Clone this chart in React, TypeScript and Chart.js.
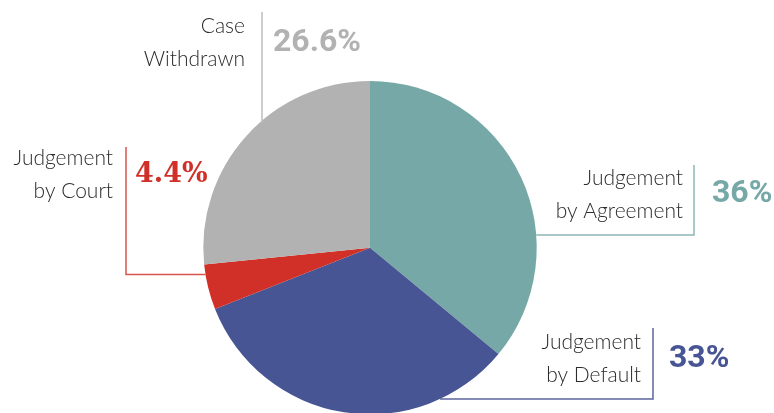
import React, { useEffect, useRef } from "react";
import { Chart, registerables } from "chart.js";

Chart.register(...registerables);

const categories = [
  ["Judgement", "by Agreement"],
  ["Judgement", "by Default"],
  ["Judgement", "by Court"],
  ["Case", "Withdrawn"],
];
const values = [36, 33, 4.4, 26.6];
const colors = ["#76a8a7", "#485594", "#d03027", "#b2b2b2"];
const lineColors = ["#8db6b5", "#5b669f", "#d9544c", "#bdbdbd"];
const pctFonts = [
  "bold 32px Roboto",
  "bold 32px Roboto",
  "bold 27px 'DejaVu Serif'",
  "bold 32px Roboto",
];

// label layout: leader line x, leader top y, horizontal elbow y (null = straight down to pie),
// text right edge x, first baseline y, percent left x, percent center y
const layout = [
  { lx: 694, top: 165, elbow: 235, tx: 683, ty: 185, px: 712, py: 194 },
  { lx: 653, top: 328, elbow: 399, tx: 641, ty: 349, px: 669, py: 359 },
  { lx: 126, top: 147, elbow: 274.5, tx: 113, ty: 165, px: 135, py: 175 },
  { lx: 262, top: 12, elbow: null, tx: 245, ty: 33, px: 273, py: 43 },
];

const labelPlugin = {
  id: "leaderLabels",
  afterDraw(chart: any) {
    const ctx = chart.ctx;
    const meta = chart.getDatasetMeta(0);
    const arc = meta.data[0];
    const cx = arc.x;
    const cy = arc.y;
    const r = arc.outerRadius;
    ctx.save();
    layout.forEach((l, i) => {
      ctx.strokeStyle = lineColors[i];
      ctx.lineWidth = 1.5;
      ctx.beginPath();
      ctx.moveTo(l.lx, l.top);
      if (l.elbow !== null) {
        ctx.lineTo(l.lx, l.elbow);
        const dy = l.elbow - cy;
        const dx = Math.sqrt(Math.max(0, r * r - dy * dy));
        const ex = l.lx > cx ? cx + dx : cx - dx;
        ctx.lineTo(ex, l.elbow);
      } else {
        const dx = l.lx - cx;
        const dy = Math.sqrt(Math.max(0, r * r - dx * dx));
        ctx.lineTo(l.lx, cy - dy + 2);
      }
      ctx.stroke();

      ctx.fillStyle = "#2b2b2b";
      ctx.font = "300 21px Lato";
      ctx.textAlign = "right";
      ctx.textBaseline = "alphabetic";
      categories[i].forEach((t, j) => {
        ctx.fillText(t, l.tx, l.ty + j * 32.5);
      });

      ctx.fillStyle = colors[i];
      ctx.font = pctFonts[i];
      ctx.textAlign = "left";
      ctx.textBaseline = "middle";
      ctx.fillText(`${values[i]}%`, l.px, l.py);
    });
    ctx.restore();
  },
};

export default function App() {
  const ref = useRef<HTMLCanvasElement>(null);
  useEffect(() => {
    const chart = new Chart(ref.current!, {
      type: "pie",
      data: {
        labels: categories.map((c) => c.join(" ")),
        datasets: [
          {
            data: values,
            backgroundColor: colors,
            borderWidth: 0,
          },
        ],
      },
      options: {
        responsive: false,
        animation: false,
        devicePixelRatio: 1,
        layout: { padding: { top: 81, bottom: 5.6, left: 203.3, right: 237.3 } },
        plugins: { legend: { display: false }, tooltip: { enabled: false } },
      },
      plugins: [labelPlugin],
    });
    return () => chart.destroy();
  }, []);
  return (
    <div style={{ position: "fixed", left: 0, top: 0, width: 774, height: 420, background: "#fff" }}>
      <canvas ref={ref} width={774} height={420} />
    </div>
  );
}
